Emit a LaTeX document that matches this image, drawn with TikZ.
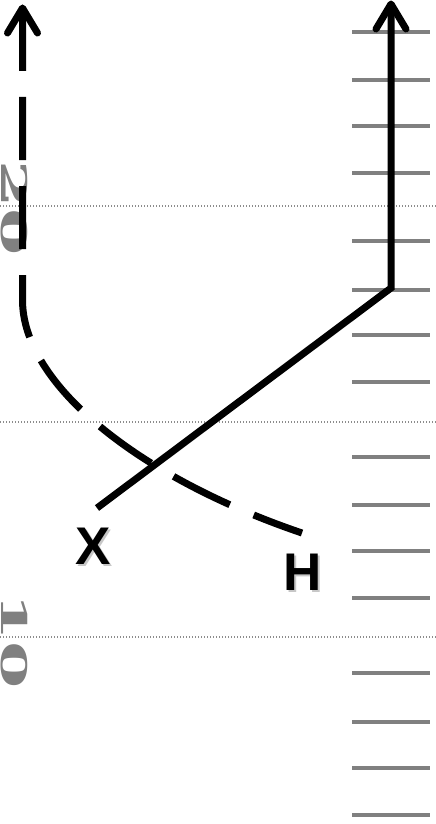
\documentclass[tikz,border=0pt]{standalone}
\usepackage{fontspec}
\newfontfamily\labelfont{Liberation Sans}
\newfontfamily\numfont{DejaVu Serif}
\usetikzlibrary{calc}
\definecolor{hashgray}{RGB}{128,128,128}
\definecolor{dotgray}{RGB}{140,140,140}
\begin{document}
\begin{tikzpicture}[x=1pt,y=-1pt,
  route/.style={line width=7pt, draw=black},
  dashroute/.style={route, dash pattern=on 63pt off 26pt},
  tiphead/.style={line width=7pt, draw=black, line cap=round, line join=round},
  hash/.style={line width=4pt, draw=hashgray},
  yardline/.style={line width=1.2pt, draw=dotgray, dash pattern=on 1.4pt off 1.6pt},
  yardnum/.style={rotate=-90, inner sep=0pt, text=hashgray},
  player/.style={inner sep=0pt, font=\labelfont\bfseries\fontsize{53}{53}\selectfont},
  playershadow/.style={player, text=black!22}]
\useasboundingbox (0,0) rectangle (436,824);

% yard lines
\foreach \yy in {206,422,637} \draw[yardline] (0,\yy) -- (436,\yy);
% hash marks
\foreach \yy in {32,80,126,173,241,290,335,382,457,505,551,598,673,722,768,815}
  \draw[hash] (352,\yy) -- (430,\yy);

% yard numbers
\node[yardnum] (num20) at (14,208) {\scalebox{1}[0.52]{\numfont\bfseries\fontsize{68}{68}\selectfont 20}};
\node[yardnum] (num10) at (14,641) {\scalebox{1}[0.52]{\numfont\bfseries\fontsize{68}{68}\selectfont 10}};

% players
\node[playershadow] at (95.5,548) {X};
\node[playershadow] at (305,574.5) {H};
\node[player] (X) at (93.5,546) {X};
\node[player] (H) at (303,572.5) {H};

% route coordinates
\coordinate (xstart) at (97,508);
\coordinate (xbreak) at (391,288);
\coordinate (xtip) at (391,4);
\coordinate (htip) at (22.5,8);
\coordinate (hturn) at (22.5,300);
\coordinate (hstart) at (302,533);

% X route (solid)
\draw[route] (xstart) -- (xbreak) -- (xtip);
\draw[tiphead] ($(xtip)+(-15,25)$) -- (xtip) -- ($(xtip)+(15,25)$);

% H route (dashed)
\draw[dashroute] (htip) -- (hturn) .. controls (22.5,385) and (140,478) .. (hstart);
\draw[tiphead] ($(htip)+(-15,25)$) -- (htip) -- ($(htip)+(15,25)$);
\end{tikzpicture}
\end{document}
